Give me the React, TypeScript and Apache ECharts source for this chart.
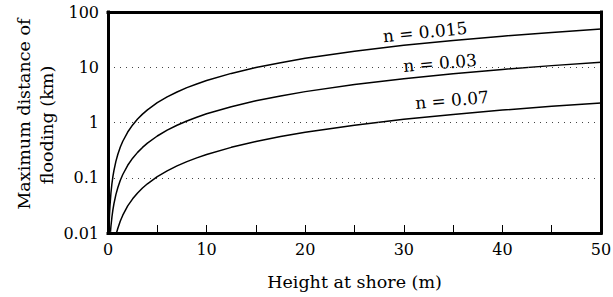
import React, { useEffect, useRef } from "react";
import * as echarts from "echarts";

const heights015 = [0.1, 0.15, 0.2, 0.3, 0.4, 0.5, 0.6, 0.8, 1, 1.25, 1.5, 2, 2.5, 3, 3.5, 4, 5, 6, 7, 8, 9, 10, 12.5, 15, 17.5, 20, 25, 30, 35, 40, 45, 50];
const dist015 = [0.0124, 0.0213, 0.0312, 0.0536, 0.0786, 0.106, 0.135, 0.198, 0.267, 0.359, 0.458, 0.672, 0.905, 1.154, 1.417, 1.69, 2.28, 2.91, 3.57, 4.27, 4.99, 5.74, 7.74, 9.87, 12.1, 14.5, 19.5, 24.9, 30.5, 36.5, 42.7, 49.1];
const heights03 = [0.25, 0.3, 0.4, 0.5, 0.6, 0.8, 1, 1.25, 1.5, 2, 2.5, 3, 3.5, 4, 5, 6, 7, 8, 9, 10, 12.5, 15, 17.5, 20, 25, 30, 35, 40, 45, 50];
const dist03 = [0.0105, 0.0134, 0.0196, 0.0265, 0.0337, 0.0495, 0.0667, 0.0898, 0.1145, 0.168, 0.226, 0.288, 0.354, 0.423, 0.57, 0.727, 0.893, 1.067, 1.248, 1.44, 1.93, 2.47, 3.03, 3.62, 4.87, 6.21, 7.63, 9.12, 10.7, 12.3];
const heights07 = [0.86, 1, 1.25, 1.5, 2, 2.5, 3, 3.5, 4, 5, 6, 7, 8, 9, 10, 12.5, 15, 17.5, 20, 25, 30, 35, 40, 45, 50];
const dist07 = [0.01, 0.0122, 0.0165, 0.021, 0.0309, 0.0415, 0.053, 0.0651, 0.0778, 0.105, 0.133, 0.164, 0.196, 0.229, 0.264, 0.355, 0.453, 0.556, 0.665, 0.895, 1.14, 1.4, 1.68, 1.96, 2.26];
const curveLabels = ["n = 0.015", "n = 0.03", "n = 0.07"];
const xTitle = "Height at shore (m)";
const yTitleLines = ["Maximum distance of", "flooding (km)"];

const FONT = "'DejaVu Serif', serif";

export default function App() {
  const ref = useRef<HTMLDivElement>(null);
  useEffect(() => {
    const chart = echarts.init(ref.current!, null, { renderer: "svg" });
    const mk = (xs: number[], ys: number[]) => xs.map((x, i) => [x, ys[i]]);
    const lineSeries = (data: number[][]) => ({
      type: "line",
      data,
      showSymbol: false,
      smooth: false,
      lineStyle: { color: "#000", width: 1.5 },
      clip: true,
    });
    const txt = (text: string, x: number, y: number, rotation: number, size: number) => ({
      type: "text",
      x,
      y,
      rotation,
      style: { text, fontFamily: FONT, fontSize: size, fill: "#000", align: "center", verticalAlign: "middle" },
    });
    const frameLine = { show: true, onZero: false, lineStyle: { color: "#000", width: 3, cap: "square" } };
    chart.setOption({
      animation: false,
      grid: {
        left: 108, right: 12, top: 12, bottom: 64,
        outerBoundsMode: "none",
        containLabel: false,
      },
      xAxis: [
        {
          type: "value",
          min: 0,
          max: 50,
          interval: 5,
          name: xTitle,
          nameLocation: "middle",
          nameGap: 40,
          nameTextStyle: { fontFamily: FONT, fontSize: 17.5, color: "#000" },
          axisLine: frameLine,
          axisTick: { show: true, inside: true, length: 8, lineStyle: { color: "#000", width: 1 } },
          axisLabel: {
            fontFamily: FONT,
            fontSize: 16,
            color: "#000",
            margin: 8,
            formatter: (v: number) => (v % 10 === 0 ? String(v) : ""),
          },
          splitLine: { show: false },
          z: 5,
        },
        {
          type: "value",
          position: "top",
          min: 0,
          max: 50,
          interval: 10,
          axisLine: frameLine,
          axisTick: { show: false },
          axisLabel: { show: false },
          splitLine: { show: false },
          z: 5,
        },
      ],
      yAxis: [
        {
          type: "log",
          logBase: 10,
          min: 0.01,
          max: 100,
          axisLine: frameLine,
          axisTick: { show: false },
          axisLabel: {
            fontFamily: FONT,
            fontSize: 16,
            color: "#000",
            margin: 9,
            formatter: (v: number) => String(v),
          },
          splitLine: { show: true, lineStyle: { color: "#444", width: 1, type: [1, 5] } },
          z: 5,
        },
        {
          type: "log",
          logBase: 10,
          position: "right",
          min: 0.01,
          max: 100,
          axisLine: frameLine,
          axisTick: { show: false },
          axisLabel: { show: false },
          splitLine: { show: false },
          z: 5,
        },
      ],
      graphic: [
        txt(yTitleLines[0], 24, 114, Math.PI / 2, 17.5),
        txt(yTitleLines[1], 47, 125, Math.PI / 2, 17.5),
        txt(curveLabels[0], 425, 32, 0.1, 17),
        txt(curveLabels[1], 440, 63, 0.085, 17),
        txt(curveLabels[2], 452, 100, 0.085, 17),
      ],
      series: [lineSeries(mk(heights015, dist015)), lineSeries(mk(heights03, dist03)), lineSeries(mk(heights07, dist07))],
    });
    return () => chart.dispose();
  }, []);
  return <div ref={ref} style={{ position: "absolute", left: 0, top: 0, width: 613, height: 297 }} />;
}
